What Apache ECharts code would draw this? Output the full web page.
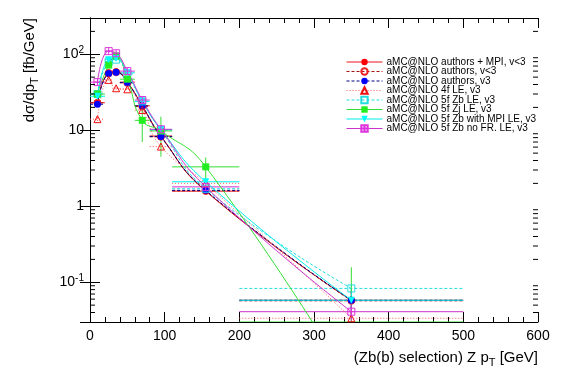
<!DOCTYPE html>
<html><head><meta charset="utf-8">
<script src="https://cdn.jsdelivr.net/npm/echarts@6/dist/echarts.min.js"></script>
<style>html,body{margin:0;padding:0;background:#fff}#c{width:567px;height:384px}</style>
</head><body><div id="c"></div>
<script>
// ---- data ----
const binCenters = [10, 25, 35, 50, 70, 95, 155, 350];
const binLo      = [0, 20, 30, 40, 60, 80, 110, 200];
const binHi      = [20, 30, 40, 60, 80, 110, 200, 500];

const authorsMpiV2   = [23, 57, 59, 43, 21, 8.4, 1.58, 0.058];
const authorsV2      = [23, 56, 58, 42, 20.5, 8.2, 1.6, 0.057];
const authorsV3      = [22, 56, 58, 42.5, 21, 8.3, 1.62, 0.058];
const le4f           = [14, 46, 35.7, 34.6, 18.5, 6.1, 2.0, 0.0336];
const le5fZb         = [30, 80, 85, 55, 24, 10, 1.7, 0.083];
const le5fZj         = [30, 72, 95, 47, 13.5, 9.8, 3.3, 0.0045];
const le5fZbMpi      = [28, 85, 88, 57, 24, 10.2, 2.1, 0.058];
const le5fZbNoFR     = [43, 110, 103, 60, 25, 10.3, 1.8, 0.041];

const errAuthorsMpiV2 = [1.0, 2.0, 2.0, 1.5, 0.8, 0.4, 0.08, 0.02];
const errAuthorsV2    = [1.0, 2.0, 2.0, 1.5, 0.8, 0.4, 0.08, 0.02];
const errAuthorsV3    = [1.0, 2.0, 2.0, 1.5, 0.8, 0.4, 0.08, 0.02];
const errLe4f         = [1.0, 2.0, 2.0, 1.5, 1.2, 0.6, 0.1, 0.005];
const errLe5fZb       = [1.5, 3.0, 3.0, 2.0, 1.2, 0.6, 0.1, 0.012];
const errLe5fZj       = [3.0, 5.0, 6.0, 4.0, 6.5, 5.3, 1.1, 0.153];
const errLe5fZbMpi    = [1.5, 3.0, 3.0, 2.0, 1.2, 0.6, 0.12, 0.015];
const errLe5fZbNoFR   = [2.0, 4.0, 4.0, 2.5, 1.2, 0.6, 0.1, 0.01];

const yMajorTicks = [0.1, 1, 10, 100];
const yMinorTicks = [0.04,0.05,0.06,0.07,0.08,0.09, 0.2,0.3,0.4,0.5,0.6,0.7,0.8,0.9,
                     2,3,4,5,6,7,8,9, 20,30,40,50,60,70,80,90, 200];
const Y_MIN = 0.03, Y_MAX = 300;

// ---- styles ----
const sqCross = 'path://M0,0H10V10H0Z M5,0V10 M0,5H10';
const defs = [
  {name:'aMC@NLO authors + MPI, v<3', vals:authorsMpiV2, errs:errAuthorsMpiV2, color:'#ff0000', line:'#e8151b', dash:'solid', symbol:'circle', open:false},
  {name:'aMC@NLO authors, v<3', vals:authorsV2, errs:errAuthorsV2, color:'#ee2222', line:'#aa1111', dash:[3,2], symbol:'circle', open:true},
  {name:'aMC@NLO authors, v3', vals:authorsV3, errs:errAuthorsV3, color:'#0000ff', line:'#000088', dash:[3,2], symbol:'circle', open:false},
  {name:'aMC@NLO 4f LE, v3', vals:le4f, errs:errLe4f, color:'#ee1111', line:'#ff5555', dash:[1,2], symbol:'triangle', open:true},
  {name:'aMC@NLO 5f Zb LE, v3', vals:le5fZb, errs:errLe5fZb, color:'#22dddd', line:'#22dddd', dash:[3,2], symbol:'rect', open:true},
  {name:'aMC@NLO 5f Zj LE, v3', vals:le5fZj, errs:errLe5fZj, color:'#22ee22', line:'#33dd33', dash:'solid', symbol:'rect', open:false},
  {name:'aMC@NLO 5f Zb with MPI LE, v3', vals:le5fZbMpi, errs:errLe5fZbMpi, color:'#00ffff', line:'#00eeee', dash:'solid', symbol:'triangle', rot:180, open:false},
  {name:'aMC@NLO 5f Zb no FR. LE, v3', vals:le5fZbNoFR, errs:errLe5fZbNoFR, color:'#dd33dd', line:'#cc33cc', dash:'solid', symbol:sqCross, open:true}
];

const FONT = 'Liberation Sans';
const series = [];
defs.forEach(function(d){
  series.push({
    name: d.name, type:'line', smooth:0.5, clip:true,
    data: binCenters.map(function(x,i){return [x, d.vals[i]];}),
    symbol: d.symbol, symbolSize: 7, symbolRotate: d.rot||0, showAllSymbol:true,
    lineStyle:{color:d.line, width:1, type:d.dash},
    itemStyle:{color: d.open ? 'rgba(0,0,0,0)' : d.color, borderColor:d.color, borderWidth: d.open?1:0},
    emphasis:{disabled:true}, z: 3
  });
});
defs.forEach(function(d){
  series.push({
    name: d.name + ' err', type:'custom', clip:true, silent:true, z: 2,
    data: binCenters.map(function(x,i){return [x, d.vals[i], binLo[i], binHi[i], d.errs[i]];}),
    renderItem: function(params, api){
      const x = api.value(0), y = api.value(1), xl = api.value(2), xh = api.value(3), e = api.value(4);
      const yc = Math.max(y, Y_MIN);
      const pl = api.coord([xl, yc]), ph = api.coord([xh, yc]);
      const pt = api.coord([x, y + e]), pb = api.coord([x, Math.max(y - e, 1e-4)]);
      const st = {stroke:d.line, lineWidth:1, lineDash: d.dash === 'solid' ? null : d.dash, fill:null};
      return {type:'group', children:[
        {type:'line', shape:{x1:pl[0], y1:pl[1], x2:ph[0], y2:ph[1]}, style:st},
        {type:'line', shape:{x1:pt[0], y1:pt[1], x2:pt[0], y2:pb[1]}, style:st}
      ]};
    }
  });
});
series.push({
  name:'minor', type:'custom', silent:true, z:5,
  data: yMinorTicks.map(function(v){return [0, v];}),
  renderItem: function(params, api){
    const cs = params.coordSys;
    const y = api.coord([0, api.value(1)])[1];
    const st = {stroke:'#000', lineWidth:1};
    return {type:'group', children:[
      {type:'line', shape:{x1:cs.x, y1:y, x2:cs.x+5, y2:y}, style:st},
      {type:'line', shape:{x1:cs.x+cs.width-5, y1:y, x2:cs.x+cs.width, y2:y}, style:st}
    ]};
  }
});

function yLabel(v){
  const lg = Math.round(Math.log10(v));
  if (Math.abs(Math.log10(v) - lg) > 1e-6 || yMajorTicks.indexOf(Math.pow(10, lg)) < 0) return '';
  if (lg === 0) return '{b|1}';
  if (lg === 1) return '{b|10}';
  return '{b|10}{s|' + lg + '}';
}

const chart = echarts.init(document.getElementById('c'), null, {renderer:'canvas'});
chart.setOption({
  animation:false,
  backgroundColor:'#fff',
  grid:{left:90, right:29, top:18, bottom:62},
  xAxis:[{
    type:'value', min:0, max:600, interval:100,
    axisLine:{lineStyle:{color:'#000', width:1}},
    axisTick:{inside:true, length:10, lineStyle:{color:'#000'}},
    minorTick:{show:true, splitNumber:5, length:5, lineStyle:{color:'#000'}},
    splitLine:{show:false},
    axisLabel:{color:'#000', fontFamily:FONT, fontSize:14, margin:7}
  },{
    type:'value', min:0, max:600, interval:100, position:'top',
    axisLine:{lineStyle:{color:'#000', width:1}},
    axisTick:{inside:true, length:10, lineStyle:{color:'#000'}},
    minorTick:{show:true, splitNumber:5, length:5, lineStyle:{color:'#000'}},
    splitLine:{show:false}, axisLabel:{show:false}
  }],
  yAxis:[{
    type:'log', logBase:10, min:Y_MIN, max:Y_MAX,
    axisLine:{show:true, lineStyle:{color:'#000', width:1}},
    axisTick:{show:true, inside:true, length:10, lineStyle:{color:'#000'}},
    splitLine:{show:false},
    axisLabel:{formatter:yLabel, margin:6,
      rich:{b:{fontFamily:FONT, fontSize:14, color:'#000'},
            s:{fontFamily:FONT, fontSize:10, color:'#000', verticalAlign:'top', padding:[0,0,8,0]}}}
  },{
    type:'log', logBase:10, min:Y_MIN, max:Y_MAX, position:'right',
    axisLine:{show:true, lineStyle:{color:'#000', width:1}},
    axisTick:{show:true, inside:true, length:10, lineStyle:{color:'#000'}},
    splitLine:{show:false}, axisLabel:{show:false}
  }],
  legend:{
    data: defs.map(function(d){return d.name;}),
    orient:'vertical', left:346, top:57, padding:0,
    itemWidth:36, itemHeight:8, itemGap:-0.5, selectedMode:false,
    lineStyle:{width:1},
    textStyle:{fontFamily:FONT, fontSize:10, color:'#000', lineHeight:8, padding:[0,0,0,-1]}
  },
  graphic:[
    {type:'text', x:538, y:358, style:{
      text:'(Zb(b) selection) Z p{sub|T} [GeV]', align:'right', verticalAlign:'middle',
      font:'15px "Liberation Sans"', fill:'#000',
      rich:{sub:{fontFamily:FONT, fontSize:11, verticalAlign:'bottom', padding:[10,0,0,0], fill:'#000'}}}},
    {type:'text', x:30, y:18, rotation:Math.PI/2, style:{
      text:'dσ/dp{sub|T} [fb/GeV]', align:'right', verticalAlign:'middle',
      font:'15px "Liberation Sans"', fill:'#000',
      rich:{sub:{fontFamily:FONT, fontSize:11, verticalAlign:'bottom', padding:[10,0,0,0], fill:'#000'}}}}
  ],
  series: series
});
</script></body></html>
